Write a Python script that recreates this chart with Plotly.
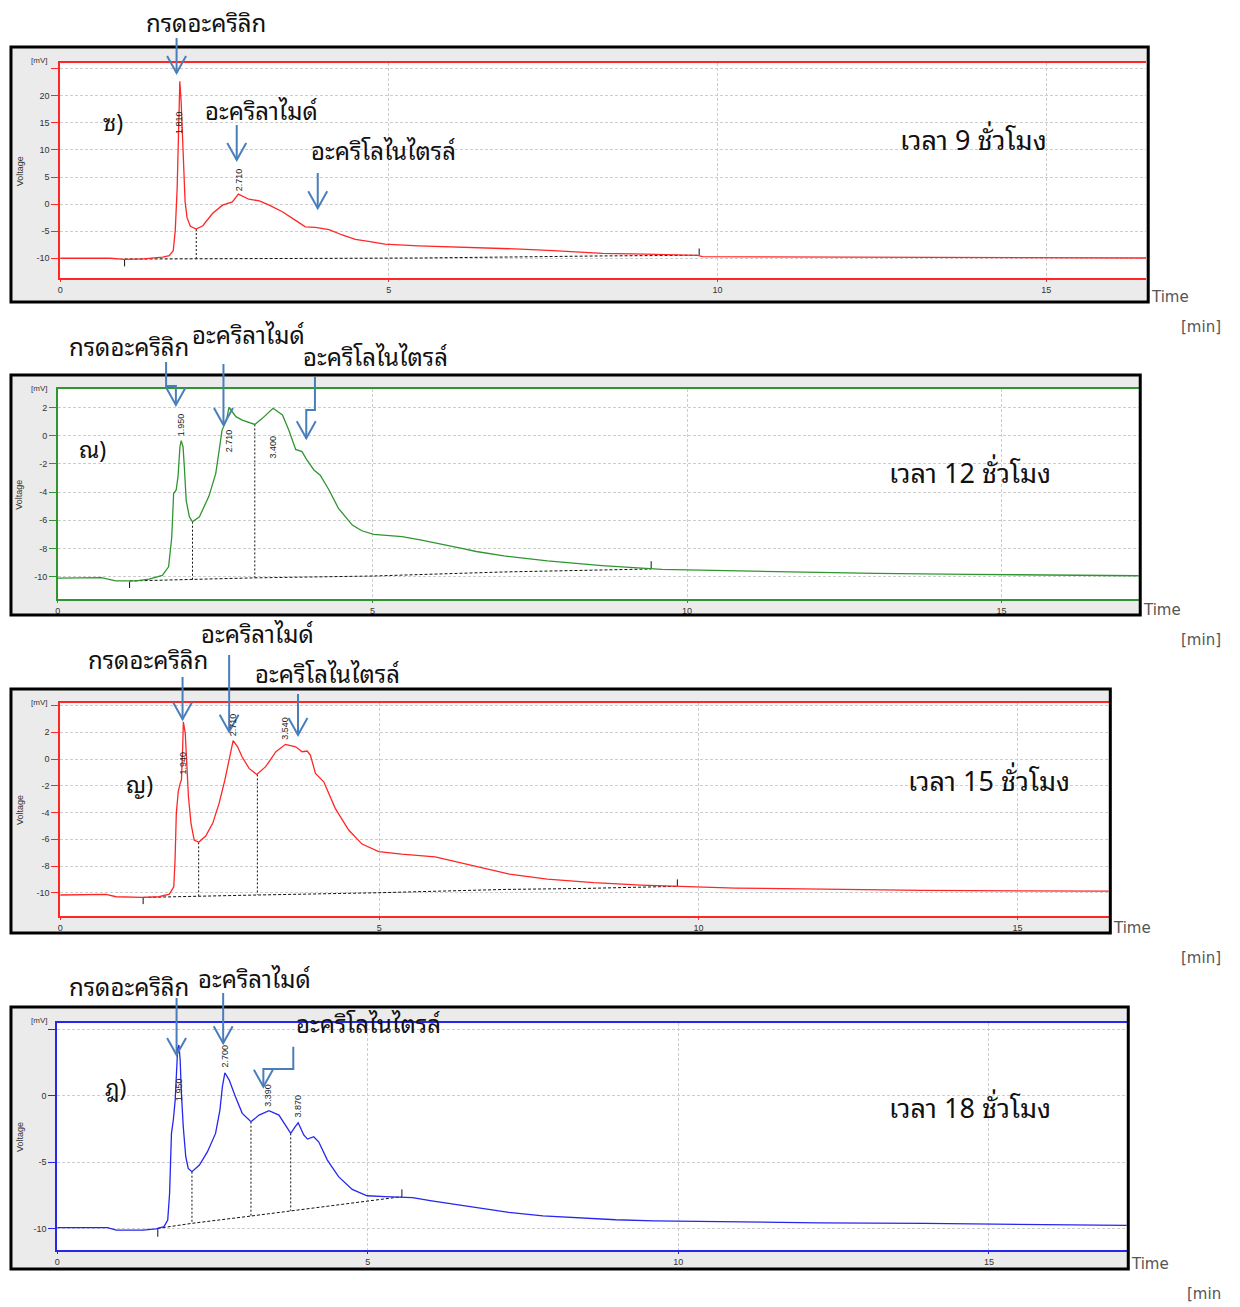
import plotly.graph_objects as go

W, H = 1240, 1307

# ---------------- data (time in min, voltage in mV) ----------------
# Panel ซ) 9 h
t_p1 = [0, 0.76, 0.98, 1.26, 1.56, 1.66, 1.72, 1.75, 1.78, 1.80, 1.82, 1.84, 1.86, 1.88, 1.90,
        1.93, 1.98, 2.07, 2.17, 2.32, 2.47, 2.62, 2.71, 2.87, 3.03, 3.18, 3.38, 3.58, 3.73,
        3.88, 4.09, 4.29, 4.49, 4.69, 4.94, 5.45, 6.1, 7.0, 7.5, 8.25, 8.9, 9.7, 9.77, 11.1,
        14.4, 16.52]
v_p1 = [-10.0, -10.0, -10.2, -10.1, -9.8, -9.5, -8.6, -5.0, 3.0, 15.0, 22.7, 19.0, 12.0, 5.0, 0.5,
        -2.5, -4.1, -4.6, -4.0, -1.7, -0.2, 0.4, 1.85, 0.9, 0.6, -0.2, -1.4, -3.0, -4.2,
        -4.3, -4.7, -5.7, -6.5, -6.9, -7.4, -7.7, -7.9, -8.3, -8.6, -9.1, -9.25, -9.45, -9.7, -9.75,
        -9.85, -9.95]
base_t_p1 = [0.98, 2.07, 4.5, 5.5, 8.25, 9.72]
base_v_p1 = [-10.15, -10.12, -10.0, -9.95, -9.57, -9.45]
drop_t_p1 = [2.07]
drop_top_p1 = [-4.6]
drop_bot_p1 = [-10.12]
mark_t_p1 = [0.98, 9.72]
mark_v0_p1 = [-10.2, -9.4]
mark_v1_p1 = [-11.5, -8.2]
peak_t_p1 = [1.81, 2.72]
peak_txt_p1 = ["1.810", "2.710"]
peak_lab_v_p1 = [15.0, 4.6]
yticks_p1 = [25, 20, 15, 10, 5, 0, -5, -10]
ytext_p1 = ["", "20", "15", "10", "5", "0", "-5", "-10"]

# Panel ณ) 12 h
t_p2 = [0, 0.69, 0.92, 1.24, 1.45, 1.66, 1.76, 1.81, 1.84, 1.88, 1.91, 1.94, 1.96, 1.99, 2.01,
        2.04, 2.09, 2.14, 2.25, 2.40, 2.51, 2.61, 2.68, 2.72, 2.76, 2.83, 2.93, 3.13, 3.25,
        3.42, 3.57, 3.67, 3.78, 3.88, 3.96, 4.07, 4.17, 4.31, 4.46, 4.68, 4.83, 5.02, 5.47,
        5.78, 6.42, 6.65, 7.09, 7.78, 8.65, 9.26, 9.43, 9.6, 10.0, 10.57, 11.26, 13.0, 14.48,
        15.96, 17.18]
v_p2 = [-10.1, -10.07, -10.3, -10.3, -10.17, -9.9, -9.3, -7.2, -4.1, -3.85, -2.9, -0.8, -0.35, -0.8,
        -2.2, -4.6, -5.75, -6.1, -5.75, -4.3, -2.67, 0.4, 1.1, 2.0, 1.77, 1.35, 1.1, 0.8, 1.23,
        1.94, 1.47, 0.4, -0.97, -1.13, -1.73, -2.43, -2.8, -3.85, -5.15, -6.34, -6.74, -7.0, -7.16,
        -7.4, -7.99, -8.21, -8.52, -8.88, -9.21, -9.4, -9.42, -9.48, -9.52, -9.57, -9.64, -9.76,
        -9.83, -9.9, -9.93]
base_t_p2 = [1.14, 2.14, 3.13, 5.0, 6.2, 7.1, 8.1, 9.43]
base_v_p2 = [-10.3, -10.2, -10.08, -9.95, -9.78, -9.66, -9.57, -9.45]
drop_t_p2 = [2.14, 3.13]
drop_top_p2 = [-6.1, 0.8]
drop_bot_p2 = [-10.2, -10.08]
mark_t_p2 = [1.14, 9.43]
mark_v0_p2 = [-10.35, -9.4]
mark_v1_p2 = [-10.8, -8.9]
peak_t_p2 = [1.96, 2.72, 3.42]
peak_txt_p2 = ["1.950", "2.710", "3.400"]
peak_lab_v_p2 = [0.76, -0.33, -0.83]
yticks_p2 = [2, 0, -2, -4, -6, -8, -10]
ytext_p2 = ["2", "0", "-2", "-4", "-6", "-8", "-10"]

# Panel ญ) 15 h
t_p3 = [0, 0.72, 0.875, 1.29, 1.55, 1.71, 1.78, 1.80, 1.82, 1.85, 1.88, 1.90, 1.92, 1.93, 1.96,
        1.98, 2.01, 2.05, 2.10, 2.17, 2.28, 2.39, 2.49, 2.58, 2.65, 2.71, 2.78, 2.85, 2.96,
        3.08, 3.22, 3.38, 3.53, 3.69, 3.79, 3.87, 3.92, 4.00, 4.13, 4.31, 4.52, 4.73, 4.99,
        5.35, 5.875, 6.29, 6.52, 7.04, 7.63, 8.36, 9.1, 9.67, 10.06, 10.58, 12.27, 13.5, 16.43]
v_p3 = [-10.17, -10.12, -10.3, -10.35, -10.3, -10.1, -9.55, -7.56, -4.06, -2.44, -1.82, -1.57, 0.92,
        2.79, 1.92, -0.32, -2.82, -4.81, -6.06, -6.23, -5.76, -4.81, -3.32, -1.57, 0.17, 1.37,
        0.92, 0.17, -0.70, -1.15, -0.57, 0.55, 1.1, 0.92, 0.55, 0.6, 0.3, -1.07, -1.7, -3.69,
        -5.31, -6.36, -6.93, -7.11, -7.31, -7.76, -8.05, -8.6, -8.98, -9.25, -9.43, -9.5, -9.6,
        -9.65, -9.75, -9.83, -9.88]
base_t_p3 = [1.30, 2.17, 3.09, 4.99, 6.37, 6.99, 8.2, 9.67]
base_v_p3 = [-10.35, -10.25, -10.17, -10.0, -9.85, -9.75, -9.68, -9.52]
drop_t_p3 = [2.17, 3.09]
drop_top_p3 = [-6.23, -1.15]
drop_bot_p3 = [-10.25, -10.17]
mark_t_p3 = [1.30, 9.67]
mark_v0_p3 = [-10.35, -9.5]
mark_v1_p3 = [-10.85, -9.0]
peak_t_p3 = [1.93, 2.71, 3.53]
peak_txt_p3 = ["1.940", "2.710", "3.540"]
peak_lab_v_p3 = [-0.3, 2.54, 2.3]
yticks_p3 = [4, 2, 0, -2, -4, -6, -8, -10]
ytext_p3 = ["", "2", "0", "-2", "-4", "-6", "-8", "-10"]

# Panel ฎ) 18 h
t_p4 = [0, 0.81, 0.95, 1.38, 1.59, 1.72, 1.78, 1.81, 1.84, 1.87, 1.90, 1.92, 1.94, 1.96, 1.98,
        2.00, 2.03, 2.07, 2.11, 2.17, 2.29, 2.42, 2.55, 2.62, 2.66, 2.70, 2.77, 2.87, 2.98,
        3.12, 3.25, 3.41, 3.57, 3.68, 3.76, 3.83, 3.88, 3.97, 4.03, 4.13, 4.21, 4.35, 4.53,
        4.75, 4.99, 5.28, 5.55, 5.72, 6.03, 6.42, 6.81, 7.27, 7.82, 8.36, 8.99, 9.61, 10.7,
        12.26, 13.97, 15.37, 17.22]
v_p4 = [-9.95, -9.95, -10.13, -10.13, -10.03, -9.87, -9.37, -7.36, -2.84, -1.83, -0.33, 1.93, 3.57,
        3.82, 2.69, 0.18, -2.34, -4.6, -5.48, -5.73, -5.23, -4.22, -2.84, -1.08, 0.68, 1.73, 1.18,
        -0.08, -1.33, -1.96, -1.46, -1.13, -1.46, -2.26, -2.84, -2.34, -2.04, -2.96, -3.27, -3.09,
        -3.47, -4.85, -6.1, -7.06, -7.54, -7.61, -7.66, -7.68, -7.93, -8.2, -8.5, -8.8, -9.05,
        -9.2, -9.35, -9.43, -9.5, -9.58, -9.63, -9.7, -9.78]
base_t_p4 = [1.62, 2.17, 3.12, 3.76, 4.99, 5.55]
base_v_p4 = [-10.0, -9.62, -9.07, -8.67, -7.91, -7.61]
drop_t_p4 = [2.17, 3.12, 3.76]
drop_top_p4 = [-5.73, -1.96, -2.84]
drop_bot_p4 = [-9.62, -9.07, -8.67]
mark_t_p4 = [1.62, 5.55]
mark_v0_p4 = [-10.0, -7.61]
mark_v1_p4 = [-10.63, -7.06]
peak_t_p4 = [1.96, 2.70, 3.39, 3.87]
peak_txt_p4 = ["1.950", "2.700", "3.390", "3.870"]
peak_lab_v_p4 = [0.5, 3.03, 0.05, -0.77]
yticks_p4 = [5, 0, -5, -10]
ytext_p4 = ["", "0", "-5", "-10"]

xticks = [0, 5, 10, 15]
xtext = ["0", "5", "10", "15"]

panel_tag = ["ซ)", "ณ)", "ญ)", "ฎ)"]
panel_time = ["เวลา 9 ชั่วโมง", "เวลา 12 ชั่วโมง", "เวลา 15 ชั่วโมง", "เวลา 18 ชั่วโมง"]
compound = ["กรดอะคริลิก", "อะคริลาไมด์", "อะคริโลไนไตรล์"]

# ---------------- layout geometry (pixels) ----------------
colors = ["#ff2626", "#2f962f", "#ff2626", "#2626f0"]
frames = [(8, 1148, 47, 302), (8, 1140, 375, 615), (8, 1110, 689, 933), (8, 1128, 1007, 1269)]
plots = [(57.3, 1146, 63.3, 278.3), (55, 1138.5, 389.3, 599.3),
         (57.3, 1108.5, 703.3, 916), (54.3, 1126.5, 1023.3, 1250)]
xranges = [[0, 16.52], [0, 17.18], [0, 16.43], [0, 17.22]]
yranges = [[-13.7, 26.0], [-11.6, 3.29], [-11.74, 4.17], [-11.63, 5.46]]

THAI = ("Noto Sans Thai Looped, Noto Serif Thai, Loma, Garuda, Norasi, Kinnari, "
        "Noto Sans Thai, Tahoma, sans-serif")
SANS = "Liberation Sans, Arial, sans-serif"
ARROW = "#4a7ebb"


def PX(x):
    return x / W


def PY(y):
    return 1 - y / H


def note(x, y, text, font, angle=0, xa="center"):
    return dict(x=PX(x), y=PY(y), xref="paper", yref="paper", text=text, showarrow=False,
                xanchor=xa, yanchor="middle", textangle=angle, font=font)


fig = go.Figure()

panels = [
    (t_p1, v_p1, base_t_p1, base_v_p1, drop_t_p1, drop_top_p1, drop_bot_p1, mark_t_p1, mark_v0_p1,
     mark_v1_p1, peak_t_p1, peak_txt_p1, peak_lab_v_p1, yticks_p1, ytext_p1),
    (t_p2, v_p2, base_t_p2, base_v_p2, drop_t_p2, drop_top_p2, drop_bot_p2, mark_t_p2, mark_v0_p2,
     mark_v1_p2, peak_t_p2, peak_txt_p2, peak_lab_v_p2, yticks_p2, ytext_p2),
    (t_p3, v_p3, base_t_p3, base_v_p3, drop_t_p3, drop_top_p3, drop_bot_p3, mark_t_p3, mark_v0_p3,
     mark_v1_p3, peak_t_p3, peak_txt_p3, peak_lab_v_p3, yticks_p3, ytext_p3),
    (t_p4, v_p4, base_t_p4, base_v_p4, drop_t_p4, drop_top_p4, drop_bot_p4, mark_t_p4, mark_v0_p4,
     mark_v1_p4, peak_t_p4, peak_txt_p4, peak_lab_v_p4, yticks_p4, ytext_p4),
]

shapes = []
annotations = []
layout_axes = {}

for i, (t, v, bt, bv, dt, dtop, dbot, mt, mv0, mv1, pt, ptxt, plv, ytv, ytt) in enumerate(panels):
    n = "" if i == 0 else str(i + 1)
    xa, ya = "x" + n, "y" + n
    col = colors[i]
    fig.add_trace(go.Scatter(x=bt, y=bv, mode="lines", xaxis=xa, yaxis=ya,
                             line=dict(color="#111", width=1, dash="3px,2px"), hoverinfo="skip"))
    for k in range(len(dt)):
        fig.add_trace(go.Scatter(x=[dt[k], dt[k]], y=[dtop[k], dbot[k]], mode="lines", xaxis=xa,
                                 yaxis=ya, line=dict(color="#111", width=1, dash="2px,2px"),
                                 hoverinfo="skip"))
    for k in range(len(mt)):
        fig.add_trace(go.Scatter(x=[mt[k], mt[k]], y=[mv0[k], mv1[k]], mode="lines", xaxis=xa,
                                 yaxis=ya, line=dict(color="#111", width=1), hoverinfo="skip"))
    fig.add_trace(go.Scatter(x=t, y=v, mode="lines", xaxis=xa, yaxis=ya,
                             line=dict(color=col, width=1.3), hoverinfo="skip"))
    for k in range(len(pt)):
        annotations.append(dict(x=pt[k], y=plv[k], xref=xa, yref=ya, text=ptxt[k], showarrow=False,
                                textangle=-90, font=dict(family=SANS, size=9, color="#222"),
                                xanchor="center", yanchor="middle"))

    fl, fr, ft, fb = frames[i]
    pl, pr, ptp, pb = plots[i]
    tickfont = dict(family=SANS, size=9, color="#333")
    layout_axes["xaxis" + n] = dict(
        domain=[PX(pl), PX(pr)], range=xranges[i], anchor=ya, showline=True, linecolor=col,
        linewidth=1.5, mirror=True, ticks="outside", ticklen=2, tickcolor=col, tickwidth=1,
        tickvals=xticks, ticktext=xtext, showgrid=True, gridcolor="#cdcdcd",
        griddash="3px,2px", gridwidth=1, zeroline=False, tickfont=tickfont)
    layout_axes["yaxis" + n] = dict(
        domain=[PY(pb), PY(ptp)], range=yranges[i], anchor=xa, showline=True, linecolor=col,
        linewidth=1.5, mirror=False, ticks="outside", ticklen=7, tickcolor=col, tickwidth=1,
        tickvals=ytv, ticktext=ytt, showgrid=True, gridcolor="#cdcdcd", griddash="3px,2px",
        gridwidth=1, zeroline=False, tickfont=tickfont)

    shapes.append(dict(type="rect", xref="paper", yref="paper", x0=PX(fl), x1=PX(fr), y0=PY(fb),
                       y1=PY(ft), fillcolor="#ebebeb", line=dict(width=0), layer="below"))
    shapes.append(dict(type="rect", xref="paper", yref="paper", x0=PX(pl), x1=PX(pr), y0=PY(pb),
                       y1=PY(ptp), fillcolor="white", line=dict(width=0), layer="below"))
    shapes.append(dict(type="rect", xref="paper", yref="paper", x0=PX(fl), x1=PX(fr), y0=PY(fb),
                       y1=PY(ft), fillcolor="rgba(0,0,0,0)", line=dict(color="black", width=3),
                       layer="above"))
    annotations.append(note(36, ft + 13.5, "[mV]", dict(family=SANS, size=8, color="#333")))
    annotations.append(note(16.5, (ptp + pb) / 2, "Voltage",
                            dict(family=SANS, size=9, color="#333"), angle=-90))
    annotations.append(note(fr + 1, fb - 5, "Time",
                            dict(family="DejaVu Sans", size=15, color="#555"), xa="left"))
    annotations.append(note(1223, fb + 25, "[min]" if i < 3 else "[min",
                            dict(family="DejaVu Sans", size=15, color="#555"), xa="right"))

# Thai labels (center positions in pixels)
tag_pos = [(110, 121), (90, 447), (137, 782), (113, 1085)]
time_pos = [(973, 138), (969, 471), (988, 778), (969, 1105)]
comp_pos = [
    [(203, 21), (259, 109), (381, 149)],
    [(126, 345), (246, 333), (373, 355)],
    [(145, 658), (255, 632), (325, 672)],
    [(126, 985), (252, 977), (366, 1022)],
]
for i in range(4):
    annotations.append(note(tag_pos[i][0], tag_pos[i][1], panel_tag[i],
                            dict(family=THAI, size=23, color="#111")))
    annotations.append(note(time_pos[i][0], time_pos[i][1], panel_time[i],
                            dict(family=THAI, size=27, color="#111")))
    for j in range(3):
        annotations.append(note(comp_pos[i][j][0], comp_pos[i][j][1], compound[j],
                                dict(family=THAI, size=24, color="#111")))

# arrows: polyline in pixels, last point is the tip
arrows = [
    [(174, 38), (174, 73)], [(234.3, 125), (234.3, 160)], [(315.5, 173), (315.5, 208.3)],
    [(163.5, 362), (163.5, 386), (173.3, 386), (173.3, 405)], [(221, 364), (221, 425)],
    [(312.7, 377), (312.7, 410), (304, 410), (304, 438.3)],
    [(180, 677), (180, 719.3)], [(226.7, 655), (226.7, 731.7)], [(295.7, 694), (295.7, 735)],
    [(174, 998), (174, 1055)], [(220.7, 993), (220.7, 1043.3)],
    [(291, 1046.7), (291, 1069), (261, 1069), (261, 1086.7)],
]
for pts in arrows:
    path = "M " + " L ".join(f"{PX(x):.5f},{PY(y):.5f}" for x, y in pts)
    shapes.append(dict(type="path", xref="paper", yref="paper", path=path,
                       line=dict(color=ARROW, width=2), layer="above"))
    tx, ty = pts[-1]
    chev = (f"M {PX(tx - 9.5):.5f},{PY(ty - 17):.5f} L {PX(tx):.5f},{PY(ty):.5f} "
            f"L {PX(tx + 9.5):.5f},{PY(ty - 17):.5f}")
    shapes.append(dict(type="path", xref="paper", yref="paper", path=chev,
                       line=dict(color=ARROW, width=2), layer="above"))

fig.update_layout(
    width=W, height=H, margin=dict(l=0, r=0, t=0, b=0), showlegend=False,
    paper_bgcolor="white", plot_bgcolor="rgba(0,0,0,0)",
    shapes=shapes, annotations=annotations, **layout_axes)

fig.write_html("out.html", config={"displayModeBar": False},
               post_script="document.body.style.margin='0';")
